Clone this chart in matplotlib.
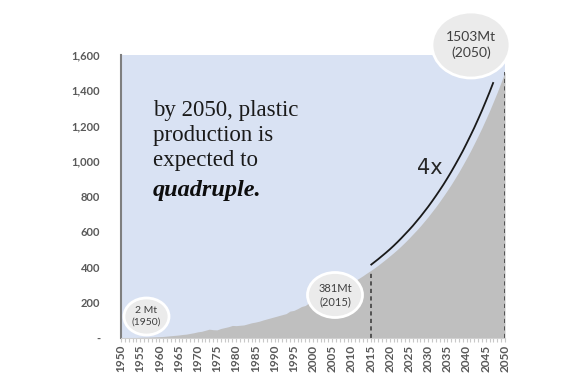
import numpy as np
import matplotlib
matplotlib.use('Agg')
import matplotlib.pyplot as plt
from matplotlib.patches import Ellipse
from matplotlib.ticker import FuncFormatter, MultipleLocator

# historical production (Mt), 1950-2015
hist_years = list(range(1950, 2016))
hist_mt = [2, 2, 2, 3, 3, 4, 5, 5, 6, 7,
           8, 9, 11, 13, 15, 17, 20, 22, 26, 30,
           35, 38, 44, 50, 47, 46, 54, 59, 64, 71,
           70, 72, 74, 80, 86, 90, 95, 102, 108, 114,
           120, 126, 132, 138, 152, 156, 166, 178, 184, 200,
           213, 218, 231, 241, 256, 263, 280, 286, 281, 288,
           313, 325, 338, 352, 367, 381]

# projected production (Mt), 2015-2050
proj_years = list(range(2015, 2051))
proj_mt = [381, 396, 412, 429, 446, 464, 482, 501, 521, 542,
           564, 587, 610, 634, 660, 686, 714, 742, 772, 803,
           835, 868, 903, 939, 977, 1016, 1056, 1099, 1143, 1188,
           1236, 1285, 1337, 1390, 1446, 1503]

yticks = [0, 200, 400, 600, 800, 1000, 1200, 1400, 1600]
xticks = list(range(1950, 2051, 5))

label_font = 'Lato'
txt_col = '#595959'

fig = plt.figure(figsize=(5.68, 3.76), dpi=100)
ax = fig.add_axes([0.213, 0.101, 0.676, 0.753])
ax.set_facecolor('#d9e2f3')

years = hist_years + proj_years[1:]
values = hist_mt + proj_mt[1:]
ax.fill_between(years, 0, values, color='#bfbfbf', lw=0)

# dashed markers at 2015 and 2050
for yr in (2015, 2050):
    v = values[years.index(yr)]
    ax.plot([yr, yr], [0, v], ls=(0, (2.5, 2)), color='#404040', lw=1.2)

# "4x" arc, drawn slightly off the projection curve
arc_x = [y - 2 for y in proj_years[2:-1]]
arc_y = proj_mt[2:-1]
ax.plot(arc_x, arc_y, color='#1a1a1a', lw=1.3, solid_capstyle='butt')
ax.text(2030.5, 960, '4x', fontsize=15, color='#262626', family='DejaVu Sans',
        ha='center', va='center')

ax.set_xlim(1950, 2050)
ax.set_ylim(0, 1600)
ax.set_yticks(yticks)
ax.yaxis.set_major_formatter(FuncFormatter(lambda v, p: '-' if v == 0 else f'{int(v):,}'))
ax.set_xticks(xticks)
ax.set_xticklabels([str(x) for x in xticks], rotation=90)
ax.xaxis.set_minor_locator(MultipleLocator(1))
ax.tick_params(axis='y', length=0, pad=15, labelsize=8, labelcolor=txt_col)
ax.tick_params(axis='x', which='major', length=3, width=0.8, color='#c8c8c8',
               pad=2, labelsize=8.5, labelcolor=txt_col)
ax.tick_params(axis='x', which='minor', length=3, width=0.8, color='#c8c8c8')
for lab in ax.get_xticklabels() + ax.get_yticklabels():
    lab.set_family(label_font)
    lab.set_fontweight('bold')

for s in ('top', 'right'):
    ax.spines[s].set_visible(False)
ax.spines['left'].set_color('#7f7f7f')
ax.spines['left'].set_linewidth(1.5)
ax.spines['bottom'].set_color('#d0d0d0')
ax.spines['bottom'].set_linewidth(0.8)

# headline text
serif = 'Liberation Serif'
lines = ['by 2050, plastic', 'production is', 'expected to']
for i, ln in enumerate(lines):
    fig.text(153 / 568, 1 - (116 + 25 * i) / 376, ln, fontsize=16.5, family=serif,
             color='#1a1a1a', va='baseline')
fig.text(153 / 568, 1 - 196 / 376, 'quadruple.', fontsize=17.5, family=serif,
         style='italic', weight='bold', color='#0d0d0d', va='baseline')

# bubbles (pixel centre, width, height, text, fontsize)
W, H = 568, 376
bubbles = [(146.5, 316.5, 45, 37, '2 Mt\n(1950)', 7.5),
           (335, 295, 55, 45, '381Mt\n(2015)', 8),
           (471, 45, 78, 66, '1503Mt\n(2050)', 10)]
for cx, cy, w, h, t, fs in bubbles:
    e = Ellipse((cx / W, 1 - cy / H), w / W, h / H, transform=fig.transFigure,
                facecolor='#ebebeb', edgecolor='white', lw=2, zorder=5)
    fig.add_artist(e)
    fig.text(cx / W, 1 - cy / H, t, fontsize=fs, family=label_font, color='#404040',
             ha='center', va='center', linespacing=1.3, zorder=6)

fig.savefig('out.png', dpi=100)
